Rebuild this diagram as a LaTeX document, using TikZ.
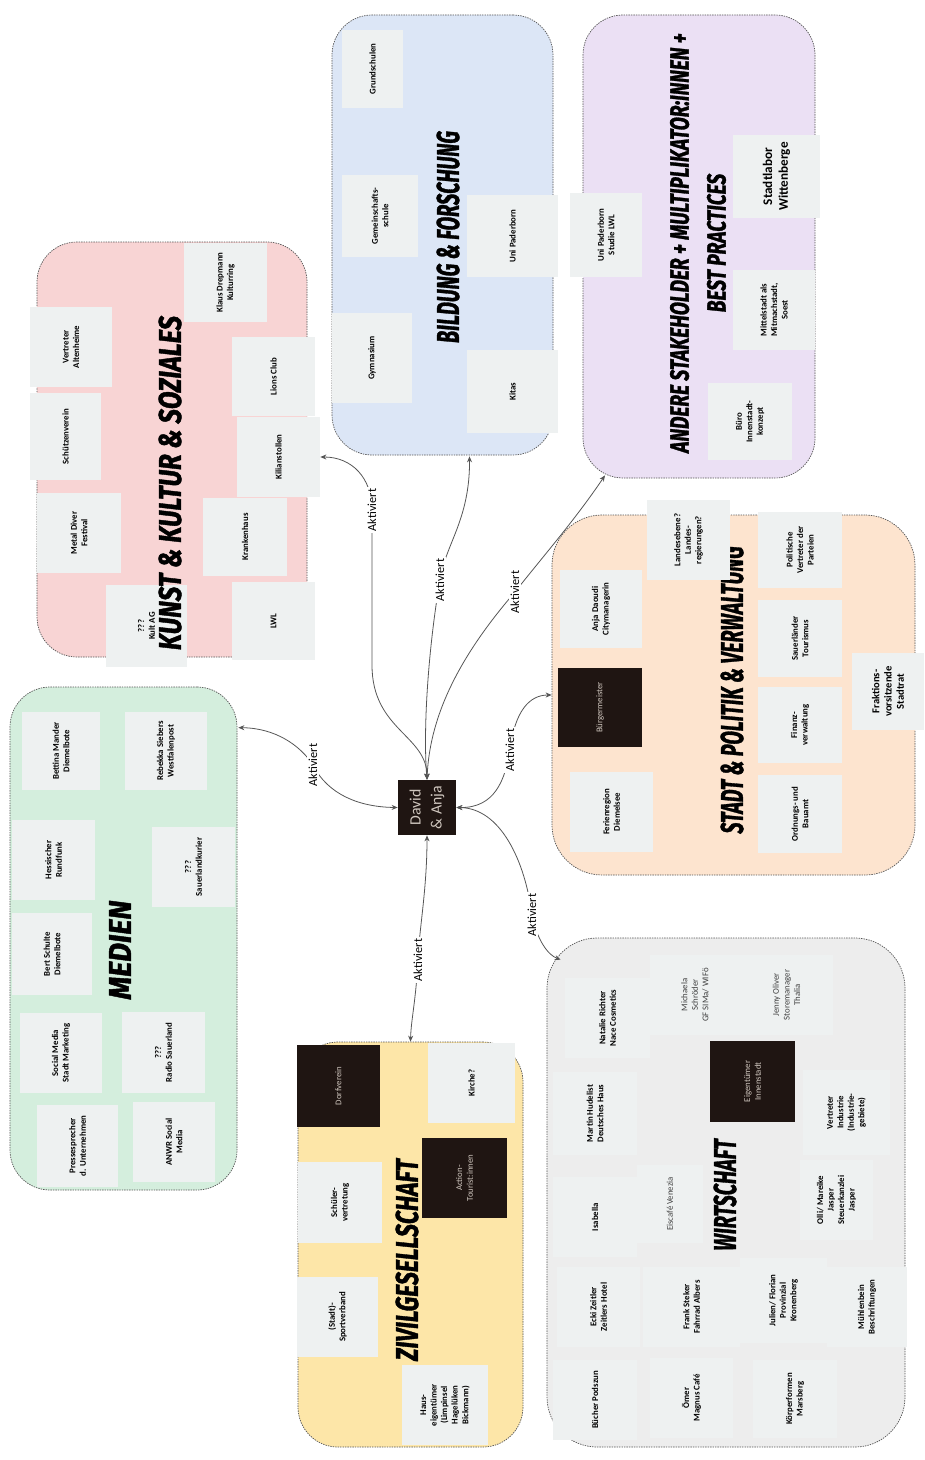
\documentclass[tikz,border=0pt]{standalone}
\usepackage{graphicx}
\usepackage{fontspec}
\setmainfont{Carlito}
\newfontfamily\headfont{Fira Sans}[FakeBold=1.5]
\usetikzlibrary{arrows.meta,positioning,calc,fit}
\definecolor{ink}{HTML}{1F1512}
\definecolor{inktext}{HTML}{CFC6BE}
\definecolor{cardbg}{HTML}{EEF1F1}
\definecolor{rose}{HTML}{F8D4D4}
\definecolor{sky}{HTML}{DCE6F6}
\definecolor{lilac}{HTML}{EBE0F4}
\definecolor{mint}{HTML}{D4EEDD}
\definecolor{peach}{HTML}{FDE4CF}
\definecolor{fog}{HTML}{EDEDED}
\definecolor{sand}{HTML}{FDE6A8}
\definecolor{wire}{HTML}{555555}
\newcommand{\grp}[2][0.6]{\scalebox{#1}[1]{#2}}
\tikzset{x=0.02cm,y=-0.02cm,
area/.style={draw=wire,dash pattern=on 0.8pt off 0.6pt,line width=0.4pt,rounded corners=8mm,inner sep=0pt},
head/.style={rotate=90,font=\headfont\fontsize{18}{20}\selectfont\bfseries\itshape,align=center},
card/.style={rotate=90,fill=cardbg,align=center,font=\fontsize{5}{6}\selectfont\bfseries,inner sep=1pt,minimum width=1.6cm,minimum height=1.66cm},
sz/.style 2 args={minimum height=#1*0.02cm,minimum width=#2*0.02cm},
dark/.style={card,fill=ink,text=inktext,font=\fontsize{5}{6}\selectfont},
lite/.style={card,text=black!75,font=\fontsize{5}{6}\selectfont},
link/.style={{Stealth[length=1.2mm,width=1mm]}-{Stealth[length=1.2mm,width=1mm]},draw=wire,line width=0.45pt},
lbl/.style={rotate=90,fill=white,inner sep=1pt,font=\fontsize{7}{8}\selectfont}}
\begin{document}
\begin{tikzpicture}
\fill[white] (0,0) rectangle (924,1460);
\useasboundingbox (0,0) rectangle (924,1460);
% groups
\node[area,fill=rose,fit={(37,242)(307,657)}] (kunst) {};
\node[area,fill=sky,fit={(332,15)(553,455)}] (bildung) {};
\node[area,fill=lilac,fit={(583,15)(815,478)}] (stake) {};
\node[area,fill=mint,fit={(10,687)(237,1190)}] (medien) {};
\node[area,fill=peach,rounded corners=1cm,fit={(552,515)(915,875)}] (stadt) {};
\node[area,fill=fog,rounded corners=1cm,fit={(547,938)(905,1447)}] (wirt) {};
\node[area,fill=sand,fit={(298,1042)(523,1447)}] (zivil) {};
\node[head] (tbildung) at (448,237) {\grp[0.63]{BILDUNG \& FORSCHUNG}};
\node[head,font=\headfont\fontsize{15}{21}\selectfont\bfseries\itshape] (tstake) at (698,243) {\grp[0.73]{ANDERE STAKEHOLDER + MULTIPLIKATOR:INNEN +}\\\grp[0.73]{BEST PRACTICES}};
\node[head] (tmedien) at (120,950) {\grp[0.92]{MEDIEN}};
\node[head] (tstadt) at (732,690) {\grp[0.62]{STADT \& POLITIK \& VERWALTUNG}};
\node[head] (twirt) at (725,1195) {\grp[0.63]{WIRTSCHAFT}};
\node[head] (tzivil) at (407,1260) {\grp[0.73]{ZIVILGESELLSCHAFT}};
% kunst & kultur
\node[card,sz={82}{80}] (altenheim) at (71,347) {Vertreter\\Altenheime};
\node[card,sz={71}{87}] (schuetzen) at (65.5,436.5) {Schützenverein};
\node[card,sz={84}{80}] (metal) at (79,533) {Metal Diver\\Festival};
\node[card,sz={81}{82}] (kultag) at (146.5,626) {???\\Kult AG};
\node[card,sz={83}{79}] (drepmann) at (225.5,282.5) {Klaus Drepmann\\Kulturring};
\node[card,sz={83}{79}] (lions) at (273.5,376.5) {Lions Club};
\node[card,sz={83}{80}] (kilian) at (278.5,457) {Kilianstollen};
\node[card,sz={84}{78}] (kranken) at (245,537) {Krankenhaus};
\node[card,sz={83}{78}] (lwl) at (273.5,621) {LWL};
\node[head] (tkunst) at (170,483) {\grp[0.81]{KUNST \& KULTUR \& SOZIALES}};
% bildung
\node[card,sz={61}{78}] (grundschule) at (372.5,69) {Grundschulen};
\node[card,sz={76}{82}] (gemeinschaft) at (380,216) {Gemeinschafts-\\schule};
\node[card,sz={80}{90}] (gymnasium) at (372,358) {Gymnasium};
\node[card,sz={91}{82}] (unipb) at (512.5,236) {Uni Paderborn};
\node[card,sz={91}{83}] (kitas) at (512.5,391.5) {Kitas};
% stakeholder
\node[card,sz={72}{84}] (unistudie) at (606,235) {Uni Paderborn\\Studie LWL};
\node[card,sz={87}{83},font=\fontsize{7.5}{9}\selectfont\bfseries] (wittenberge) at (776.5,176.5) {Stadtlabor\\Wittenberge};
\node[card,sz={82}{80}] (soest) at (774,310) {Mittelstadt als\\Mitmachstadt,\\Soest};
\node[card,sz={84}{77}] (buero) at (750,421.5) {Büro\\Innenstadt-\\konzept};
% medien
\node[card,sz={78}{78}] (mander) at (61,751) {Bettina Mander\\Diemelbote};
\node[card,sz={82}{78}] (siebers) at (166,751) {Rebekka Siebers\\Westfalenpost};
\node[card,sz={83}{80}] (hessisch) at (53.5,860) {Hessischer\\Rundfunk};
\node[card,sz={83}{80}] (skurier) at (193.5,867) {???\\Sauerlandkurier};
\node[card,sz={80}{82}] (schulte) at (52,954) {Bert Schulte\\Diemelbote};
\node[card,sz={82}{80}] (social) at (61,1053) {Social Media\\Stadt Marketing};
\node[card,sz={83}{81}] (radio) at (163.5,1052.5) {???\\Radio Sauerland};
\node[card,sz={81}{82}] (presse) at (77.5,1146) {Pressesprecher\\d. Unternehmen};
\node[card,sz={82}{80}] (anwr) at (174,1142) {ANWR Social\\Media};
% stadt & politik
\node[card,sz={83}{80}] (landes) at (688.5,540) {Landesebene?\\Landes-\\regierungen?};
\node[card,sz={84}{76}] (parteien) at (800,550) {Politische\\Vertreter der\\Parteien};
\node[card,sz={82}{78}] (daoudi) at (601,609) {Anja Daoudi\\Citymanagerin};
\node[dark,sz={84}{79}] (bgm) at (600,707.5) {Bürgermeister};
\node[card,sz={84}{77}] (tourismus) at (800,638.5) {Sauerländer\\Tourismus};
\node[card,sz={72}{77},font=\fontsize{6}{7}\selectfont\bfseries] (fraktion) at (888,691.5) {Fraktions-\\vorsitzende\\Stadtrat};
\node[card,sz={84}{76}] (finanz) at (800,725) {Finanz-\\verwaltung};
\node[card,sz={83}{80}] (ferien) at (611.5,812) {Ferienregion\\Diemelsee};
\node[card,sz={84}{78}] (ordnung) at (800,814) {Ordnungs- und\\Bauamt};
% wirtschaft
\node[card,sz={85}{80}] (richter) at (607.5,1018) {Natalie Richter\\Nace Cosmetics};
\node[lite,sz={90}{80}] (schroeder) at (695,995) {Michaela\\Schröder\\GF SIMa/ WIFö};
\node[lite,sz={93}{80}] (oliver) at (786.5,995) {Jenny Oliver\\Storemanager\\Thalia};
\node[dark,sz={85}{81}] (eigner) at (752.5,1081.5) {Eigentümer\\Innenstadt};
\node[card,sz={84}{83}] (hudelist) at (595,1113.5) {Martin Hudelist\\Deutsches Haus};
\node[card,sz={87}{85}] (industrie) at (846.5,1112.5) {Vertreter\\Industrie\\(Industrie-\\gebiete)};
\node[card,sz={84}{80}] (isabella) at (595,1217) {Isabella};
\node[lite,sz={66}{78}] (eiscafe) at (670,1204) {Eiscafé Venezia};
\node[card,sz={73}{80}] (olli) at (836.5,1200) {Olli/ Mareike\\Jasper\\Steuerkanzlei\\Jasper};
\node[card,sz={83}{80}] (zeitler) at (598.5,1307) {Ecki Zeitler\\Zeitlers Hotel};
\node[card,sz={97}{80}] (steker) at (691.5,1307) {Frank Steker\\Fahrrad Albers};
\node[card,sz={87}{85}] (julien) at (783.5,1300.5) {Julien/ Florian\\Provinzial\\Kronenberg};
\node[card,sz={80}{80}] (muehlenbein) at (867,1307) {Mühlenbein\\Beschriftungen};
\node[card,sz={84}{80}] (podszun) at (595,1400) {Bücher Podszun};
\node[card,sz={83}{80}] (oemer) at (691.5,1398) {Ömer\\Magnus Café};
\node[card,sz={84}{78}] (koerper) at (795,1399) {Körperformen\\Marsberg};
% zivilgesellschaft
\node[dark,sz={83}{82}] (dorf) at (338.5,1086) {Dorfverein};
\node[card,sz={87}{80}] (kirche) at (471.5,1083) {Kirche?};
\node[card,sz={84}{81}] (schueler) at (340,1202.5) {Schüler-\\vertretung};
\node[dark,sz={85}{80}] (action) at (464.5,1178) {Action-\\Tourist:innen};
\node[card,sz={81}{80}] (sport) at (337.5,1317) {(Stadt)-\\Sportverband};
\node[card,sz={86}{80}] (haus) at (445,1405) {Haus-\\eigentümer\\(Limpinsel\\Hagelüken\\Bickmann)};
% centre and links (rotated nodes: south = right, east = up)
\node[dark,sz={58}{55},font=\fontsize{9}{12}\selectfont] (duo) at (427,807.5) {David\\\& Anja};
\draw[link] ($(medien.north east)+(1,41)$) .. controls (275,728) and (300,745) .. (313,765) node[lbl]{Aktiviert} .. controls (328,795) and (360,807) .. (duo.north);
\draw[link] (kilian.south) .. controls (352,457) and (372,478) .. (372,510) node[lbl]{Aktiviert} -- (372,665) .. controls (372,730) and (427,735) .. (duo.east);
\draw[link] ($(bildung.south)+(27,1)$) .. controls (470,520) and (445,545) .. (440,580) node[lbl]{Aktiviert} .. controls (428,650) and (423,730) .. (duo.east);
\draw[link] ($(stake.south)+(-94,-3)$) .. controls (575,520) and (540,560) .. (515,592) node[lbl]{Aktiviert} .. controls (465,650) and (430,710) .. (duo.east);
\draw[link] (duo.south) .. controls (495,808) and (505,780) .. (510,750) node[lbl]{Aktiviert} .. controls (515,710) and (530,695) .. (stadt.west);
\draw[link] (duo.south) .. controls (500,808) and (525,860) .. (532,915) node[lbl]{Aktiviert} .. controls (537,940) and (548,955) .. ($(wirt.north west)+(14,22)$);
\draw[link] (duo.west) .. controls (427,890) and (419,930) .. (418,960) node[lbl]{Aktiviert} .. controls (416,1000) and (411,1020) .. (zivil.north);
\end{tikzpicture}
\end{document}
